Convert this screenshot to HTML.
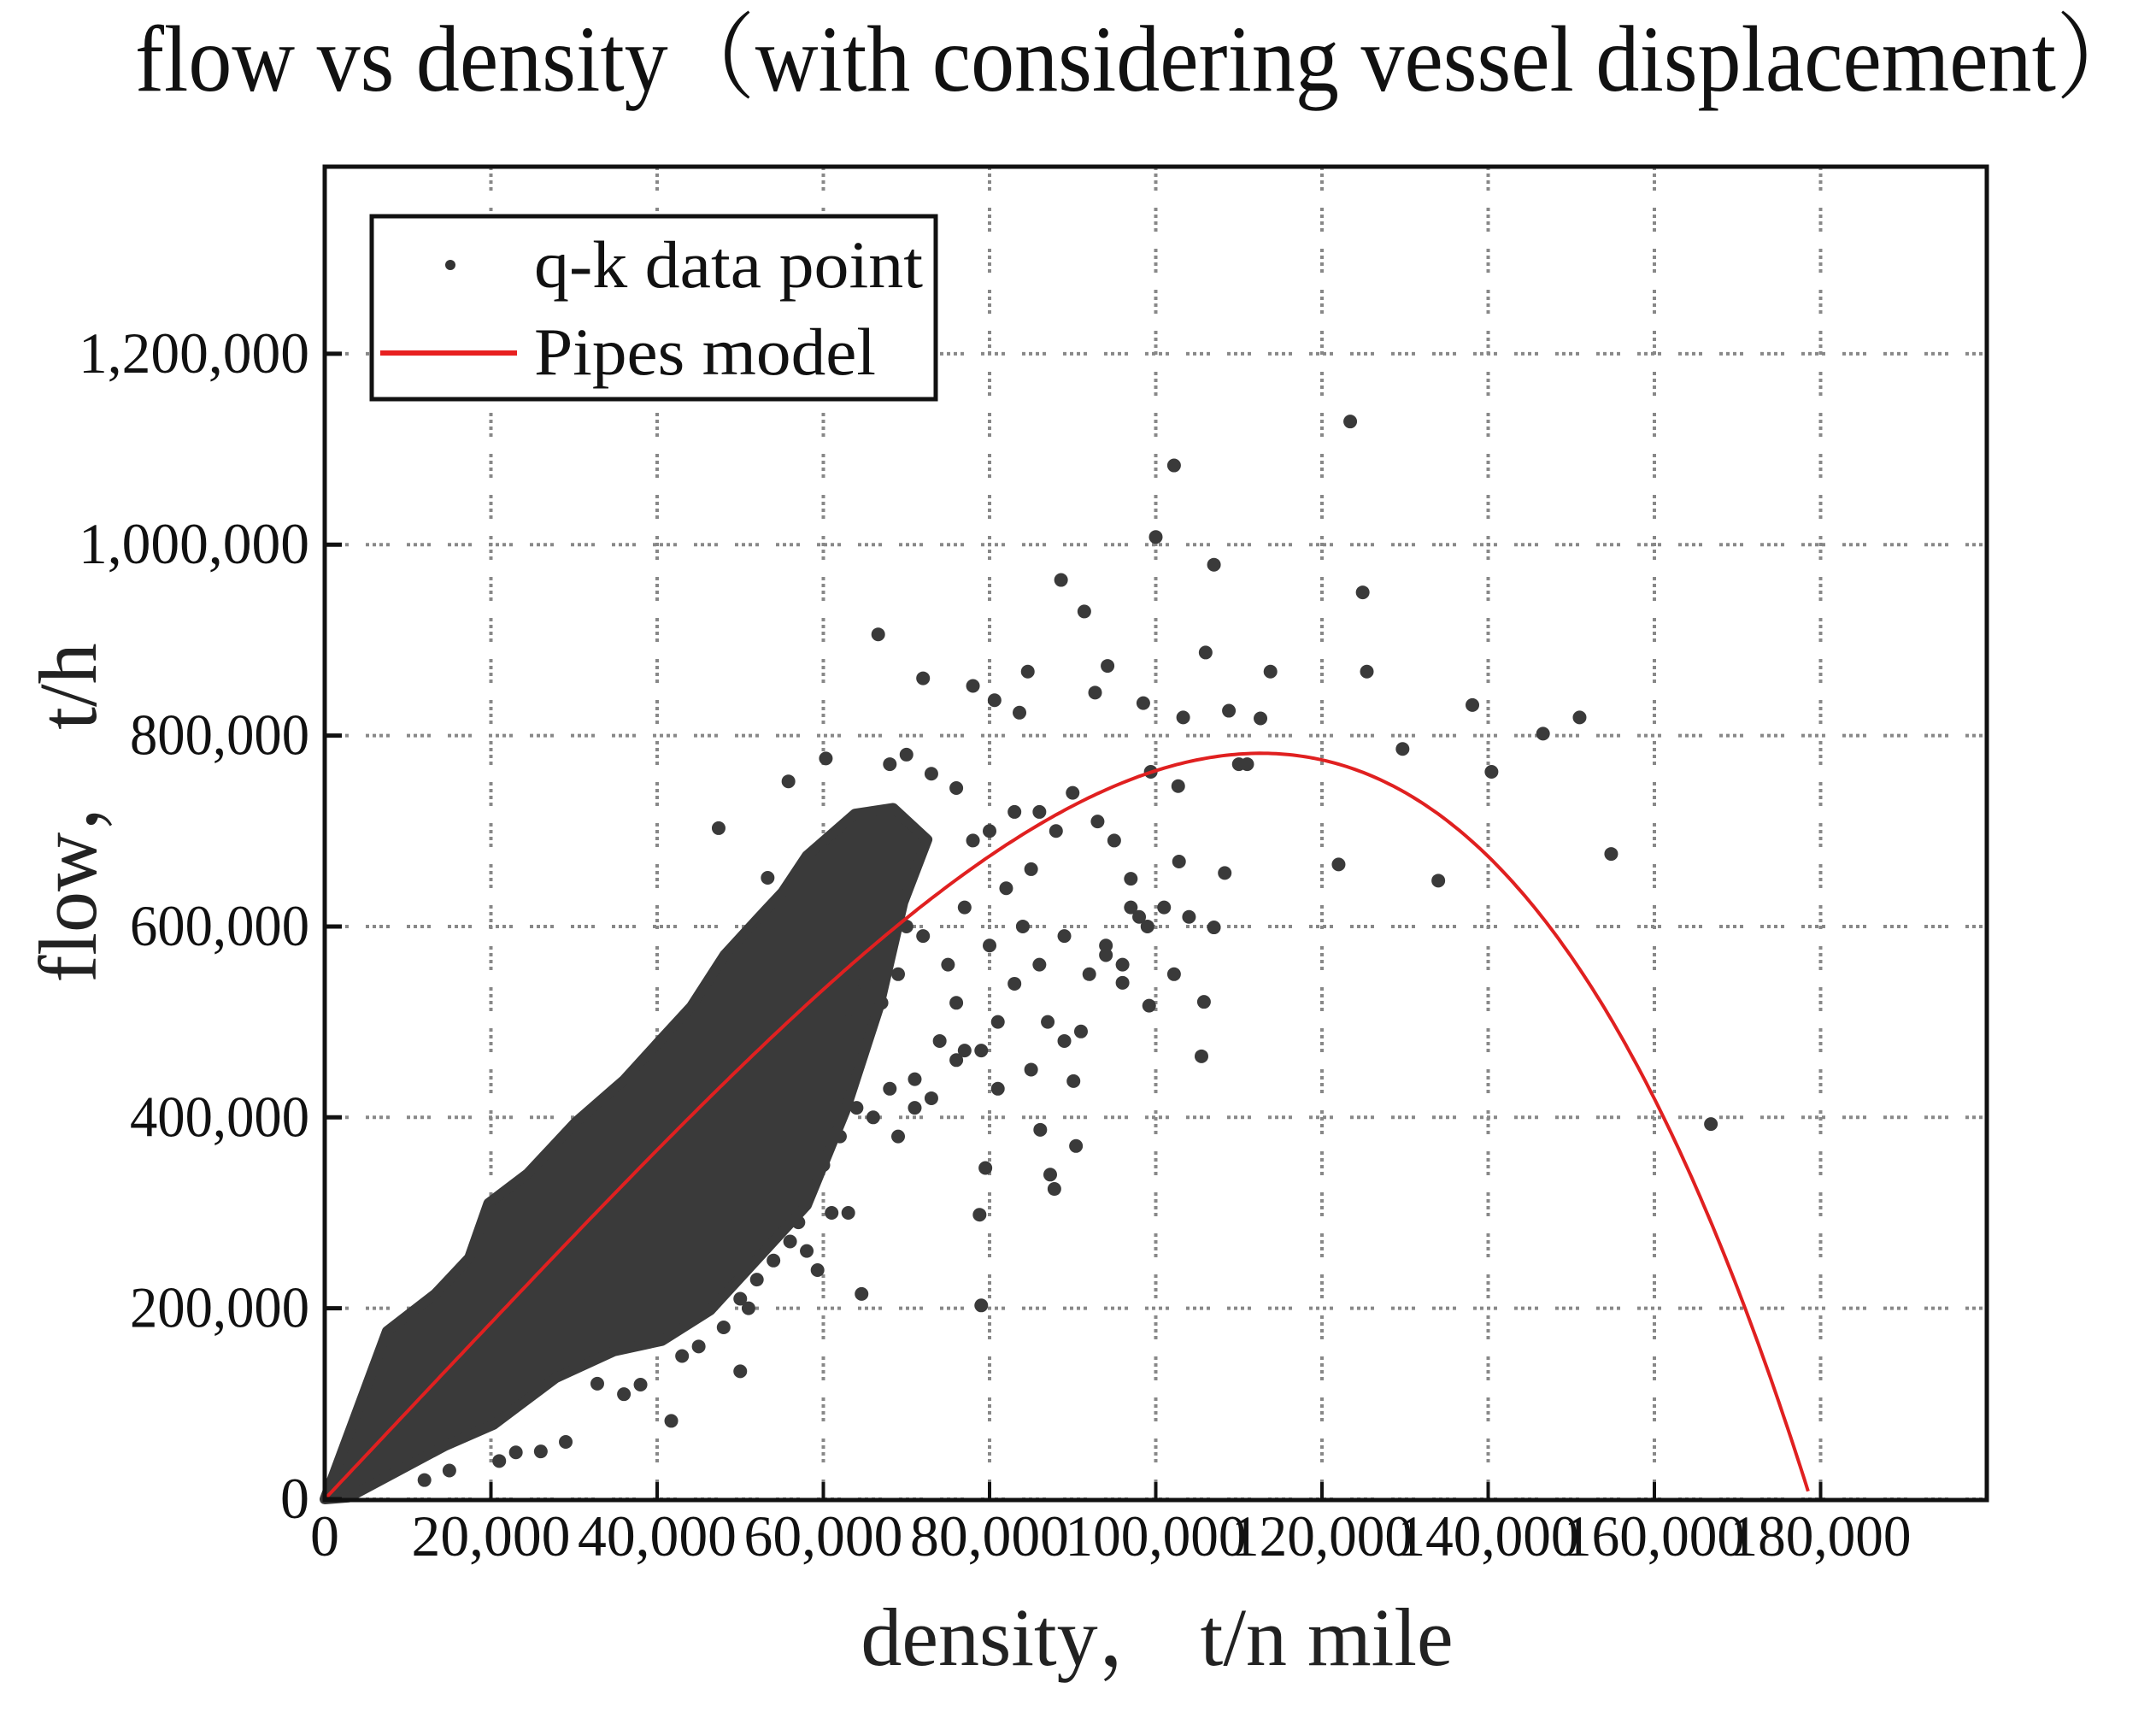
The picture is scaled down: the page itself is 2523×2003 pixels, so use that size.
<!DOCTYPE html>
<html><head><meta charset="utf-8"><style>
html,body{margin:0;padding:0;background:#fff;}
svg{display:block;font-family:"Liberation Serif","Noto Serif CJK SC",serif;}
</style></head><body>
<svg id="chart" width="2523" height="2003" viewBox="0 0 2523 2003" xmlns="http://www.w3.org/2000/svg">
<text x="158" y="106" font-size="110" textLength="2350" lengthAdjust="spacingAndGlyphs" fill="#111">flow vs density（with considering vessel displacement）</text>
<g id="grid"></g>
<g id="cloud"></g>
<g id="points"></g>
<g id="curve"></g>
<rect x="380" y="195" width="1945" height="1560" fill="none" stroke="#111" stroke-width="5"/>
<g id="ticks"></g>
<g id="legend">
<rect x="435" y="253" width="660" height="214" fill="#fff" stroke="#111" stroke-width="5"/>
<circle cx="527" cy="310" r="6" fill="#333"/>
<text x="625" y="336" font-size="78" fill="#111" textLength="455" lengthAdjust="spacingAndGlyphs">q-k data point</text>
<line x1="445" y1="413" x2="605" y2="413" stroke="#e82020" stroke-width="6"/>
<text x="625" y="438" font-size="78" fill="#111" textLength="400" lengthAdjust="spacingAndGlyphs">Pipes model</text>
</g>
<text x="1354" y="1948" font-size="96" text-anchor="middle" fill="#222">density，  t/n mile</text>
<text transform="translate(112,951) rotate(-90)" font-size="96" text-anchor="middle" fill="#222">flow，  t/h</text>
</svg>
<script>
const xTicks=[0,20000,40000,60000,80000,100000,120000,140000,160000,180000];
const xTickLabels=["0","20,000","40,000","60,000","80,000","100,000","120,000","140,000","160,000","180,000"];
const yTicks=[0,200000,400000,600000,800000,1000000,1200000];
const yTickLabels=["0","200,000","400,000","600,000","800,000","1,000,000","1,200,000"];
const modelVf=9.25, modelKj=178800, modelN=3;
// dense core of the q-k cloud (boundary, density/flow values)
const cloudK=[0,7500,13300,17400,19700,24400,30200,36000,40600,44100,48100,52200,55100,58000,63800,68400,72500,69600,66700,62600,58000,52200,46400,40600,34800,27800,20300,14500,8700,2900];
const cloudQ=[0,176000,215000,253000,310000,341000,395000,439000,483000,516000,570000,609000,636000,674000,718000,724000,691000,625000,516000,406000,308000,253000,198000,166000,155000,127000,78000,56000,29000,2000];
// scattered q-k points
const ptK=[123400,102200,100000,107000,88600,124900,91400,66600,106000,125400,113800,72000,84600,78000,80600,83600,92700,94200,138100,151000,146600,129700,140400,112600,108800,103300,98500,55800,60300,47400,53300,154800,134000,122000,166800,102700,99400,102800,108300,107000,102200,99200,105800,105500,96000,90100,90400,86100,87800,87300,79500,79000,78800,64600,59300,50000,41700,23000,32800,
 80000,83000,78000,76000,73000,70000,68000,86000,88000,85000,90000,93000,95000,97000,99000,101000,104000,82000,84000,80000,77000,75000,72000,70000,69000,67000,65000,63000,74000,76000,79000,81000,86000,89000,92000,94000,96000,98000,71000,68000,66000,64000,62000,60000,58000,57000,61000,56000,54000,52000,50000,48000,45000,43000,38000,36000,29000,26000,21000,15000,12000,44000,51000,58000,63000,69000,73000,77000,81000,85000,91000,110000,111000,97000,94000,89000,87000,83000,76000,71000];
const ptQ=[1129000,1083000,1008000,979000,963000,950000,930000,906000,887000,867000,867000,860000,867000,852000,837000,824000,845000,873000,832000,819000,802000,786000,762000,818000,826000,819000,834000,752000,776000,703000,651000,676000,648000,665000,393000,747000,762000,668000,656000,599000,550000,517000,521000,464000,541000,438000,370000,387000,325000,340000,347000,203000,298000,215000,240000,134000,82000,49000,121000,
 700000,720000,690000,745000,760000,780000,770000,720000,700000,660000,740000,710000,690000,650000,600000,620000,610000,640000,600000,580000,620000,560000,590000,600000,550000,520000,540000,500000,480000,520000,470000,500000,560000,590000,550000,580000,560000,610000,440000,430000,400000,410000,380000,350000,330000,290000,300000,270000,250000,230000,210000,180000,160000,150000,120000,110000,60000,50000,40000,30000,20000,200000,200000,260000,300000,380000,420000,470000,430000,450000,490000,770000,770000,620000,570000,480000,500000,540000,460000,410000];

const NS="http://www.w3.org/2000/svg";
const L=380,R=2325,T=195,B=1754,XMAX=200000,YMAX=1396000;
function sx(v){return L+v/XMAX*(R-L);}
function sy(v){return B-v/YMAX*(B-T);}
function mk(tag,attrs,parent){const e=document.createElementNS(NS,tag);for(const k in attrs)e.setAttribute(k,attrs[k]);parent.appendChild(e);return e;}
const grid=document.getElementById('grid'),ticks=document.getElementById('ticks');
xTicks.forEach((v,i)=>{
  const gl=mk('line',{x1:sx(v),x2:sx(v),y1:T,y2:B,stroke:'#888','stroke-width':4,'stroke-dasharray':'4 4 4 4 4 4 4 20'},grid);
  
  
  const tk=mk('line',{x1:sx(v),x2:sx(v),y1:B,y2:B-20,stroke:'#111','stroke-width':4},ticks);
  
  
  const lbl=xTickLabels[i];
  const attrs={x:sx(v),y:1820,'font-size':68,'text-anchor':'middle',fill:'#111'};
  if(lbl.length>1){attrs.textLength=lbl.length>6?212:186;attrs.lengthAdjust='spacingAndGlyphs';}
  const t=mk('text',attrs,ticks);
  t.textContent=lbl;
  
  
});
yTicks.forEach((v,i)=>{
  const gl=mk('line',{x1:L,x2:R,y1:sy(v),y2:sy(v),stroke:'#888','stroke-width':4,'stroke-dasharray':'4 4 4 4 4 4 4 20'},grid);
  
  
  const tk=mk('line',{x1:L,x2:L+20,y1:sy(v),y2:sy(v),stroke:'#111','stroke-width':5},ticks);
  
  
  const lbl=yTickLabels[i];
  const attrs={x:362,y:sy(v)+22,'font-size':68,'text-anchor':'end',fill:'#111'};
  if(lbl.length>1){attrs.textLength=lbl.length*30;attrs.lengthAdjust='spacingAndGlyphs';}
  const t=mk('text',attrs,ticks);
  t.textContent=lbl;
  
  
});
const cloud=document.getElementById('cloud');
const poly=mk('polygon',{points:cloudK.map((k,i)=>sx(k)+','+sy(cloudQ[i])).join(' '),fill:'#3a3a3a',stroke:'#3a3a3a','stroke-width':12,'stroke-linejoin':'round'},cloud);


const pts=document.getElementById('points');
ptK.forEach((k,i)=>{
  const c=mk('circle',{cx:sx(k),cy:sy(ptQ[i]),r:8,fill:'#3a3a3a'},pts);
  
  
});
const curve=document.getElementById('curve');
let d='';
for(let k=0;k<=modelKj;k+=500){const q=modelVf*k*(1-Math.pow(k/modelKj,modelN));d+=(k?'L':'M')+sx(k).toFixed(1)+','+sy(q).toFixed(1);}
const p=mk('path',{d:d,fill:'none',stroke:'#e02020','stroke-width':4},curve);


</script>
</body></html>
